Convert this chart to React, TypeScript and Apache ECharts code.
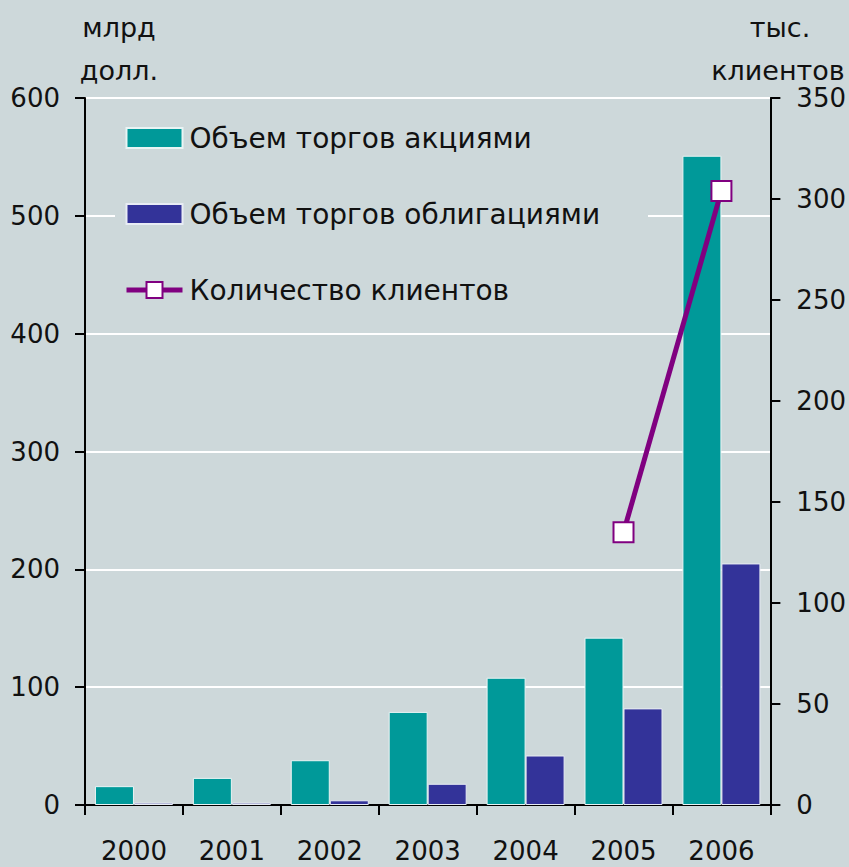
import React, { useEffect, useRef } from "react";
import * as echarts from "echarts";

const years = ["2000", "2001", "2002", "2003", "2004", "2005", "2006"];
const stocks = [16, 23, 38, 79, 108, 142, 551];
const bonds = [2, 2, 4, 18, 42, 82, 205];
const clients = [null, null, null, null, null, 135, 304];
const seriesNames = ["Объем торгов акциями", "Объем торгов облигациями", "Количество клиентов"];
const leftUnit = ["млрд", "долл."];
const rightUnit = ["тыс.", "клиентов"];

const FONT = "DejaVu Sans";
const BG = "#cdd8da";

export default function App() {
  const ref = useRef<HTMLDivElement>(null);
  useEffect(() => {
    if (!ref.current) return;
    const chart = echarts.init(ref.current, null, { renderer: "svg" });
    const axisLabel = { color: "#111", fontSize: 26, fontFamily: FONT };
    chart.setOption({
      animation: false,
      backgroundColor: BG,
      textStyle: { fontFamily: FONT },
      grid: { left: 85, right: 74, top: 98, bottom: 62, containLabel: false },
      legend: {
        orient: "vertical",
        left: 119,
        top: 119,
        itemWidth: 56,
        itemHeight: 20,
        itemGap: 48,
        textStyle: { fontSize: 28, fontFamily: FONT, color: "#111", padding: [0, 0, 0, 2] },
        data: [
          { name: seriesNames[0], icon: "rect" },
          { name: seriesNames[1], icon: "rect" },
          {
            name: seriesNames[2],
            lineStyle: { width: 5, color: "#800080" },
            itemStyle: { color: "#ffffff", borderColor: "#800080", borderWidth: 2 },
          },
        ],
        z: 10,
      },
      graphic: [
        { type: "rect", shape: { x: 115, y: 108, width: 533, height: 212 }, style: { fill: BG }, z: 1 },
        { type: "text", x: 119, y: 27, style: { text: leftUnit[0], fontSize: 27, fontFamily: FONT, fill: "#111", align: "center", verticalAlign: "middle" } },
        { type: "text", x: 119, y: 70, style: { text: leftUnit[1], fontSize: 27, fontFamily: FONT, fill: "#111", align: "center", verticalAlign: "middle" } },
        { type: "text", x: 780, y: 27, style: { text: rightUnit[0], fontSize: 27, fontFamily: FONT, fill: "#111", align: "center", verticalAlign: "middle" } },
        { type: "text", x: 778, y: 70, style: { text: rightUnit[1], fontSize: 27, fontFamily: FONT, fill: "#111", align: "center", verticalAlign: "middle" } },
      ],
      xAxis: {
        type: "category",
        data: years,
        boundaryGap: true,
        axisLine: { lineStyle: { color: "#000", width: 2 } },
        axisTick: { show: true, length: 10, lineStyle: { color: "#000", width: 2 } },
        axisLabel: { ...axisLabel, margin: 33 },
        splitLine: { show: false },
      },
      yAxis: [
        {
          type: "value",
          min: 0,
          max: 600,
          interval: 100,
          axisLine: { show: true, lineStyle: { color: "#000", width: 2 } },
          axisTick: { show: true, length: 10, lineStyle: { color: "#000", width: 2 } },
          axisLabel: { ...axisLabel, margin: 25 },
          splitLine: { show: true, lineStyle: { color: "#ffffff", width: 2 } },
        },
        {
          type: "value",
          min: 0,
          max: 350,
          interval: 50,
          position: "right",
          axisLine: { show: true, lineStyle: { color: "#000", width: 2 } },
          axisTick: { show: true, length: 10, lineStyle: { color: "#000", width: 2 } },
          axisLabel: { ...axisLabel, margin: 26 },
          splitLine: { show: false },
        },
      ],
      series: [
        {
          name: seriesNames[0],
          type: "bar",
          data: stocks,
          barWidth: 39,
          barGap: "0%",
          itemStyle: { color: "#009999", borderColor: "#e8f4f4", borderWidth: 1 },
          z: 3,
        },
        {
          name: seriesNames[1],
          type: "bar",
          data: bonds,
          barWidth: 39,
          barGap: "0%",
          itemStyle: { color: "#333399", borderColor: "#e8ecf4", borderWidth: 1 },
          z: 3,
        },
        {
          name: seriesNames[2],
          type: "line",
          yAxisIndex: 1,
          data: clients,
          symbol: "rect",
          symbolSize: 20,
          showSymbol: true,
          connectNulls: false,
          lineStyle: { color: "#800080", width: 5 },
          itemStyle: { color: "#ffffff", borderColor: "#800080", borderWidth: 2 },
          z: 5,
        },
      ],
    });
    return () => chart.dispose();
  }, []);
  return (
    <div
      ref={ref}
      style={{ position: "fixed", left: 0, top: 0, width: 849, height: 867 }}
    />
  );
}
